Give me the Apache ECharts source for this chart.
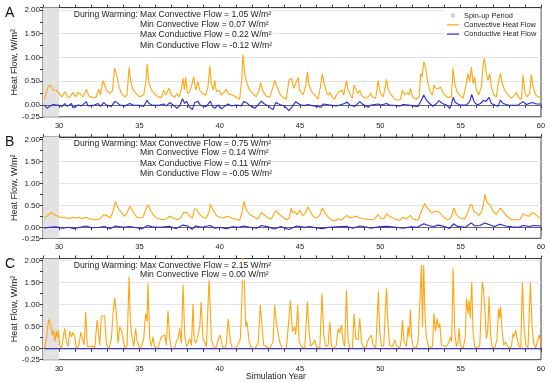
<!DOCTYPE html>
<html><head><meta charset="utf-8">
<script src="https://cdn.jsdelivr.net/npm/echarts@6/dist/echarts.min.js"></script>
<style>html,body{margin:0;padding:0;background:#fff}#c{width:550px;height:382px}</style>
</head><body><div id="c"></div>
<script>
// ---------------- data (year, W/m^2) ----------------
const convA = [[29.08,0.12],[29.32,0.38],[29.46,0.42],[29.63,0.31],[29.83,0.31],[30.00,0.24],[30.15,0.17],[30.25,0.14],[30.39,0.28],[30.52,0.17],[30.66,0.16],[30.87,0.26],[31.04,0.17],[31.18,0.26],[31.33,0.23],[31.49,0.17],[31.70,0.33],[31.85,0.19],[32.12,0.15],[32.32,0.17],[32.47,0.33],[32.57,0.21],[32.74,0.51],[32.84,0.52],[32.95,0.31],[33.15,0.24],[33.32,0.30],[33.46,0.78],[33.61,0.59],[33.73,0.38],[33.88,0.24],[34.09,0.17],[34.23,0.21],[34.36,0.79],[34.46,0.49],[34.61,0.31],[34.81,0.24],[35.02,0.17],[35.27,0.21],[35.39,0.45],[35.48,0.86],[35.60,0.45],[35.75,0.31],[35.95,0.24],[36.16,0.17],[36.37,0.16],[36.51,0.31],[36.64,0.21],[36.85,0.35],[36.99,0.21],[37.20,0.16],[37.34,0.24],[37.47,0.17],[37.61,0.33],[37.72,0.56],[37.80,0.31],[37.88,0.58],[37.99,0.24],[38.13,0.28],[38.30,0.47],[38.38,0.59],[38.51,0.31],[38.65,0.49],[38.76,0.31],[38.92,0.24],[39.13,0.21],[39.27,0.38],[39.38,0.82],[39.48,0.45],[39.59,0.31],[39.69,0.52],[39.79,0.28],[39.96,0.31],[40.10,0.21],[40.25,0.26],[40.41,0.33],[40.52,0.24],[40.62,0.28],[40.79,0.21],[41.04,0.16],[41.24,0.12],[41.37,0.52],[41.45,1.05],[41.56,0.66],[41.70,0.45],[41.87,0.31],[42.07,0.24],[42.28,0.17],[42.45,0.31],[42.55,0.47],[42.70,0.28],[42.90,0.19],[43.11,0.16],[43.32,0.38],[43.42,0.52],[43.57,0.38],[43.73,0.24],[43.93,0.16],[44.14,0.12],[44.31,0.52],[44.46,0.56],[44.61,0.35],[44.73,0.45],[44.88,0.58],[44.98,0.31],[45.19,0.21],[45.34,0.38],[45.46,0.69],[45.56,0.42],[45.71,0.28],[45.92,0.21],[46.12,0.12],[46.27,0.38],[46.39,0.66],[46.50,0.45],[46.64,0.28],[46.75,0.21],[46.85,0.26],[47.00,0.16],[47.16,0.12],[47.26,0.21],[47.41,0.28],[47.51,0.24],[47.62,0.31],[47.72,0.21],[47.89,0.51],[47.99,0.31],[48.14,0.21],[48.26,0.14],[48.36,0.42],[48.47,0.38],[48.61,0.24],[48.72,0.31],[48.82,0.21],[49.03,0.14],[49.24,0.17],[49.38,0.24],[49.55,0.16],[49.71,0.14],[49.86,0.51],[50.00,0.24],[50.17,0.17],[50.27,0.31],[50.38,0.54],[50.50,0.31],[50.69,0.21],[50.90,0.12],[51.10,0.10],[51.25,0.12],[51.37,0.31],[51.52,0.21],[51.66,0.26],[51.79,0.21],[51.87,0.35],[52.00,0.17],[52.24,0.12],[52.41,0.17],[52.51,0.66],[52.60,0.59],[52.70,0.91],[52.82,0.80],[52.93,0.52],[53.07,0.31],[53.24,0.21],[53.34,0.42],[53.45,0.35],[53.59,0.33],[53.74,0.38],[53.86,0.28],[54.01,0.21],[54.21,0.16],[54.42,0.17],[54.53,0.77],[54.63,0.45],[54.77,0.28],[54.94,0.21],[55.15,0.14],[55.31,0.38],[55.46,0.66],[55.56,0.49],[55.67,0.80],[55.77,0.45],[55.87,0.59],[55.98,0.31],[56.12,0.21],[56.29,0.38],[56.39,0.84],[56.48,0.98],[56.60,0.66],[56.70,0.52],[56.81,0.66],[56.91,0.38],[57.06,0.21],[57.22,0.17],[57.37,0.52],[57.47,0.66],[57.60,0.45],[57.74,0.31],[57.95,0.21],[58.16,0.14],[58.36,0.21],[58.47,0.26],[58.63,0.14],[58.78,0.12],[58.88,0.63],[58.99,0.28],[59.13,0.17],[59.30,0.24],[59.40,0.64],[59.51,0.38],[59.67,0.21],[59.82,0.17],[60.00,0.16]];

const condA = [[29.08,0.00],[29.25,-0.07],[29.42,-0.03],[29.63,0.01],[29.83,0.00],[30.00,-0.01],[30.21,-0.03],[30.35,0.03],[30.50,-0.03],[30.77,0.03],[30.87,-0.06],[30.98,-0.03],[31.18,0.00],[31.39,-0.02],[31.70,0.07],[31.80,-0.02],[32.12,-0.01],[32.43,0.03],[32.57,-0.03],[32.78,0.05],[32.95,0.00],[33.26,-0.03],[33.46,0.07],[33.61,0.05],[33.78,0.00],[34.09,-0.02],[34.40,0.03],[34.61,0.00],[35.02,-0.01],[35.27,-0.03],[35.39,-0.07],[35.48,0.10],[35.60,0.03],[35.85,-0.01],[36.27,0.00],[36.51,0.02],[36.68,-0.02],[36.89,0.05],[37.10,0.00],[37.34,-0.07],[37.51,-0.02],[37.68,0.13],[37.82,0.03],[37.93,0.08],[38.09,-0.03],[38.30,-0.10],[38.44,0.05],[38.65,0.08],[38.80,-0.01],[38.96,-0.02],[39.17,-0.03],[39.42,0.08],[39.54,-0.03],[39.69,-0.07],[39.90,0.00],[40.10,-0.08],[40.31,-0.03],[40.52,0.02],[40.73,-0.02],[41.04,0.00],[41.35,-0.02],[41.49,0.07],[41.66,0.05],[41.87,-0.01],[42.18,-0.07],[42.39,0.00],[42.59,0.08],[42.74,0.03],[43.01,-0.02],[43.32,-0.10],[43.49,0.05],[43.73,0.01],[44.05,-0.03],[44.31,-0.12],[44.53,-0.03],[44.73,0.07],[44.88,0.03],[45.09,0.00],[45.29,-0.01],[45.50,0.01],[45.71,-0.01],[46.02,-0.03],[46.33,-0.05],[46.43,0.02],[46.85,0.00],[47.26,-0.02],[47.47,0.00],[47.78,0.03],[47.93,0.06],[48.09,0.00],[48.41,-0.03],[48.72,0.07],[48.88,0.02],[49.24,-0.05],[49.44,0.00],[49.86,0.02],[50.07,0.00],[50.38,0.03],[50.58,0.00],[51.21,-0.02],[51.41,0.01],[51.73,0.00],[52.04,-0.02],[52.35,-0.03],[52.55,0.10],[52.70,0.21],[52.87,0.10],[53.07,0.03],[53.28,-0.03],[53.49,0.03],[53.65,0.09],[53.86,0.03],[54.11,0.00],[54.32,-0.07],[54.42,0.00],[54.53,0.16],[54.67,0.05],[54.94,0.00],[55.36,0.00],[55.56,0.07],[55.69,0.22],[55.83,0.07],[56.02,0.00],[56.23,0.03],[56.43,0.10],[56.56,0.07],[56.77,0.16],[56.91,0.03],[57.12,0.00],[57.33,-0.03],[57.47,0.10],[57.64,0.03],[57.95,0.00],[58.26,-0.01],[58.57,0.00],[58.88,0.07],[59.09,0.01],[59.46,0.05],[59.71,0.02],[60.00,0.02]];

const convB = [[29.08,0.21],[29.32,0.27],[29.48,0.34],[29.63,0.31],[29.83,0.27],[30.04,0.23],[30.25,0.23],[30.46,0.21],[30.66,0.20],[30.87,0.23],[31.04,0.21],[31.24,0.23],[31.39,0.20],[31.70,0.23],[31.91,0.19],[32.22,0.17],[32.53,0.19],[32.78,0.29],[32.95,0.27],[33.20,0.21],[33.36,0.36],[33.51,0.59],[33.67,0.44],[33.88,0.33],[34.09,0.25],[34.23,0.33],[34.40,0.48],[34.54,0.40],[34.71,0.29],[34.92,0.21],[35.23,0.23],[35.39,0.40],[35.54,0.51],[35.68,0.40],[35.85,0.29],[36.06,0.21],[36.37,0.17],[36.68,0.19],[36.89,0.25],[37.10,0.21],[37.41,0.17],[37.61,0.23],[37.76,0.34],[37.86,0.30],[37.99,0.33],[38.13,0.25],[38.30,0.21],[38.44,0.42],[38.59,0.39],[38.76,0.29],[38.96,0.23],[39.17,0.21],[39.32,0.33],[39.42,0.52],[39.59,0.39],[39.79,0.27],[40.00,0.23],[40.25,0.21],[40.46,0.25],[40.62,0.23],[40.93,0.19],[41.24,0.16],[41.41,0.36],[41.51,0.59],[41.66,0.40],[41.87,0.29],[42.18,0.23],[42.39,0.19],[42.59,0.34],[42.74,0.29],[43.01,0.21],[43.22,0.19],[43.32,0.27],[43.49,0.38],[43.63,0.33],[43.84,0.25],[44.15,0.17],[44.33,0.21],[44.45,0.44],[44.53,0.33],[44.67,0.36],[44.82,0.29],[44.98,0.39],[45.15,0.27],[45.29,0.30],[45.50,0.46],[45.65,0.36],[45.81,0.25],[46.02,0.21],[46.23,0.27],[46.39,0.44],[46.54,0.33],[46.75,0.23],[46.95,0.17],[47.16,0.15],[47.37,0.19],[47.58,0.17],[47.78,0.23],[47.93,0.27],[48.09,0.21],[48.30,0.23],[48.51,0.25],[48.72,0.21],[49.03,0.19],[49.34,0.17],[49.65,0.19],[49.86,0.29],[50.00,0.21],[50.21,0.19],[50.38,0.31],[50.58,0.25],[50.90,0.19],[51.21,0.16],[51.41,0.23],[51.62,0.19],[51.87,0.27],[52.04,0.19],[52.35,0.16],[52.55,0.36],[52.76,0.54],[52.91,0.44],[53.18,0.33],[53.38,0.36],[53.59,0.36],[53.80,0.29],[54.01,0.21],[54.21,0.17],[54.42,0.23],[54.57,0.44],[54.73,0.29],[54.94,0.21],[55.25,0.19],[55.46,0.36],[55.60,0.52],[55.73,0.49],[55.81,0.36],[55.98,0.33],[56.14,0.27],[56.35,0.40],[56.52,0.75],[56.64,0.55],[56.81,0.52],[57.02,0.36],[57.22,0.29],[57.47,0.44],[57.64,0.36],[57.89,0.25],[58.16,0.17],[58.68,0.17],[58.88,0.31],[59.05,0.27],[59.26,0.25],[59.46,0.34],[59.67,0.29],[59.92,0.21],[60.00,0.19]];

const condB = [[29.08,-0.02],[29.40,0.00],[29.80,0.01],[30.20,-0.02],[30.60,0.00],[30.90,-0.03],[31.30,0.00],[31.70,0.03],[32.00,-0.01],[32.50,0.00],[32.80,0.02],[33.20,-0.03],[33.50,0.03],[34.00,0.00],[34.40,0.02],[34.80,-0.01],[35.20,-0.03],[35.50,0.04],[35.80,0.01],[36.30,0.00],[36.90,0.02],[37.30,-0.03],[37.70,0.05],[38.00,0.03],[38.30,-0.05],[38.50,0.03],[38.90,0.00],[39.40,0.04],[39.70,-0.02],[40.00,0.00],[40.40,-0.03],[40.80,0.01],[41.20,0.00],[41.50,0.03],[41.90,0.00],[42.30,-0.02],[42.60,0.04],[43.00,0.01],[43.40,-0.04],[43.80,0.02],[44.30,-0.05],[44.80,0.03],[45.30,0.00],[45.60,0.02],[46.00,-0.01],[46.35,-0.03],[46.80,0.00],[47.30,0.01],[47.90,0.02],[48.30,-0.02],[48.70,0.03],[49.20,0.00],[49.40,-0.02],[49.90,0.01],[50.40,0.02],[51.00,0.00],[51.40,-0.02],[51.90,0.01],[52.30,0.00],[52.70,0.08],[53.00,0.04],[53.30,0.02],[53.60,0.05],[54.00,0.02],[54.30,-0.03],[54.55,0.08],[54.80,0.02],[55.30,0.00],[55.65,0.10],[55.90,0.03],[56.20,0.04],[56.50,0.10],[56.80,0.06],[57.10,0.02],[57.45,0.07],[57.80,0.03],[58.20,0.01],[58.60,0.00],[58.90,0.04],[59.30,0.02],[59.50,0.04],[60.00,0.03]];

const convC = [[29.08,0.00],[29.21,0.23],[29.36,0.67],[29.48,0.54],[29.59,0.31],[29.67,0.42],[29.73,0.16],[29.83,0.39],[29.90,0.25],[29.96,0.42],[30.04,0.08],[30.15,0.00],[30.25,0.00],[30.35,0.46],[30.46,0.16],[30.56,0.05],[30.66,0.40],[30.77,0.27],[30.87,0.37],[30.98,0.27],[31.08,0.00],[31.24,0.08],[31.35,0.37],[31.45,0.23],[31.56,0.08],[31.66,0.84],[31.76,0.05],[31.91,0.05],[32.01,0.08],[32.12,0.06],[32.22,0.00],[32.28,0.27],[32.37,0.65],[32.45,0.39],[32.53,0.08],[32.63,0.73],[32.74,0.77],[32.84,0.75],[32.95,0.08],[33.11,0.00],[33.26,0.23],[33.36,0.80],[33.46,1.16],[33.57,0.77],[33.67,0.12],[33.78,0.50],[33.88,0.42],[33.98,0.23],[34.09,0.02],[34.23,0.05],[34.36,1.64],[34.44,0.61],[34.52,0.31],[34.65,0.05],[34.77,0.46],[34.85,0.20],[35.02,0.00],[35.12,0.05],[35.27,0.23],[35.39,0.80],[35.48,0.61],[35.54,1.48],[35.64,0.23],[35.75,0.05],[35.85,0.27],[35.95,0.05],[36.16,0.00],[36.27,0.16],[36.37,0.27],[36.47,0.23],[36.58,0.31],[36.68,0.08],[36.78,0.86],[36.89,0.23],[36.99,0.00],[37.20,0.00],[37.30,0.16],[37.41,0.23],[37.51,0.46],[37.61,0.12],[37.72,1.46],[37.82,0.31],[37.93,0.05],[38.03,0.12],[38.13,0.23],[38.24,0.08],[38.34,1.02],[38.40,0.23],[38.51,0.12],[38.65,0.31],[38.76,0.50],[38.84,1.06],[38.96,0.23],[39.17,0.05],[39.34,1.60],[39.48,0.23],[39.59,0.05],[39.75,0.00],[39.90,0.20],[40.04,0.31],[40.17,0.05],[40.31,0.00],[40.41,0.10],[40.53,0.68],[40.66,0.20],[40.79,0.00],[40.93,0.00],[41.14,0.08],[41.29,0.23],[41.39,1.22],[41.45,2.15],[41.54,1.37],[41.62,0.50],[41.70,0.61],[41.83,0.16],[41.97,0.02],[42.18,0.00],[42.39,0.12],[42.53,1.00],[42.66,0.39],[42.74,0.08],[42.90,0.05],[43.11,0.00],[43.32,0.16],[43.42,1.00],[43.53,0.58],[43.63,0.61],[43.73,0.16],[43.90,0.00],[44.15,0.00],[44.32,0.73],[44.40,1.10],[44.53,0.39],[44.67,0.50],[44.73,0.31],[44.86,0.99],[44.94,0.16],[45.09,0.05],[45.29,0.00],[45.40,0.69],[45.46,1.07],[45.56,0.39],[45.67,0.05],[45.81,0.12],[45.92,0.20],[46.02,0.05],[46.23,0.00],[46.37,1.26],[46.48,0.31],[46.60,0.05],[46.75,0.08],[46.85,0.61],[46.95,0.08],[47.10,0.00],[47.26,0.08],[47.37,0.46],[47.47,0.35],[47.58,0.54],[47.68,0.16],[47.78,0.05],[47.89,1.33],[47.99,0.23],[48.09,0.02],[48.26,0.00],[48.36,0.80],[48.47,0.23],[48.61,0.20],[48.72,0.69],[48.82,0.16],[48.97,0.00],[49.13,0.05],[49.24,0.20],[49.34,0.23],[49.44,0.31],[49.55,0.08],[49.71,0.00],[49.80,0.69],[49.88,1.30],[49.96,0.39],[50.07,0.05],[50.21,0.08],[50.38,1.37],[50.48,0.54],[50.58,0.08],[50.75,0.05],[50.90,0.20],[51.00,0.08],[51.21,0.00],[51.31,0.23],[51.37,0.65],[51.48,0.16],[51.62,0.05],[51.73,0.50],[51.79,0.27],[51.87,0.88],[51.95,0.23],[52.04,0.05],[52.20,0.00],[52.35,0.16],[52.45,0.20],[52.56,1.90],[52.62,0.50],[52.70,1.90],[52.78,0.77],[52.87,0.23],[53.03,0.02],[53.24,0.05],[53.34,0.80],[53.43,0.39],[53.53,0.69],[53.61,0.46],[53.70,0.58],[53.80,0.08],[53.90,0.05],[54.11,0.05],[54.28,0.16],[54.36,0.27],[54.44,0.16],[54.53,1.83],[54.63,0.39],[54.73,0.05],[54.84,0.16],[54.90,0.46],[54.98,0.08],[55.15,0.00],[55.29,0.27],[55.36,1.14],[55.46,0.80],[55.52,1.10],[55.60,0.69],[55.69,1.52],[55.77,0.39],[55.87,0.05],[56.02,0.00],[56.19,0.08],[56.35,1.52],[56.43,1.30],[56.52,0.77],[56.60,0.23],[56.68,0.39],[56.77,1.18],[56.85,0.39],[56.95,0.05],[57.12,0.00],[57.26,0.23],[57.37,0.92],[57.43,0.69],[57.49,0.95],[57.58,0.39],[57.68,0.08],[57.80,0.16],[57.89,0.08],[58.05,0.00],[58.16,0.05],[58.26,0.35],[58.32,0.27],[58.43,0.42],[58.51,0.23],[58.63,0.05],[58.74,0.00],[58.84,1.50],[58.95,0.46],[59.05,0.08],[59.19,0.02],[59.34,1.50],[59.44,0.54],[59.55,0.12],[59.67,0.02],[59.82,0.23],[59.90,0.31],[60.00,0.08]];

const condC = [[29.08,0.00],[35.00,0.00],[40.00,0.00],[45.00,0.00],[50.00,0.00],[55.00,0.00],[60.00,0.00]];

const spinUp = [29, 30];
const panelLetters = ['A', 'B', 'C'];
const notesLead = 'During Warming:';
const notes = [
  ['Max Convective Flow = 1.05 W/m²', 'Min Convective Flow = 0.07 W/m²', 'Max Conductive Flow = 0.22 W/m²', 'Min Conductive Flow = -0.12 W/m²'],
  ['Max Convective Flow = 0.75 W/m²', 'Min Convective Flow = 0.14 W/m²', 'Max Conductive Flow = 0.11 W/m²', 'Min Conductive Flow = -0.05 W/m²'],
  ['Max Convective Flow = 2.15 W/m²', 'Min Convective Flow = 0.00 W/m²']
];
const gridLineValues = [0.5, 1, 1.5, 2];
const conv = [convA, convB, convC];
const cond = [condA, condB, condC];

// ---------------- layout / style ----------------
const FONT = '"Liberation Sans", Arial, sans-serif';
const ORANGE = '#FFA60F';
const BLUE = '#2626D9';
const AX = '#3a3a3a';
const grids = [
  {left: 43, right: 9, top: 7.6, height: 109.2},
  {left: 43, right: 9, top: 137.1, height: 101.2},
  {left: 43, right: 9, top: 258.5, height: 101.2}
];
const noteY = [[15, 24.6, 35, 45.4], [143.5, 153, 163.2, 173.4], [265.5, 275]];

const xAxes = [], yAxes = [], series = [], graphics = [];
grids.forEach((g, i) => {
  xAxes.push({
    type: 'value', gridIndex: i, position: 'bottom', min: 29, max: 60, interval: 1,
    axisLine: {show: true, lineStyle: {color: AX, width: 1}},
    axisTick: {show: true, length: 3, lineStyle: {color: AX}},
    axisLabel: {fontSize: 7.5, fontFamily: FONT, color: '#222', margin: 5,
      formatter: v => (Math.round(v) % 5 === 0 ? String(Math.round(v)) : '')},
    splitLine: {show: false}
  });
  xAxes.push({
    type: 'value', gridIndex: i, position: 'top', min: 29, max: 60, interval: 1,
    axisLine: {show: true, lineStyle: {color: AX, width: 1}},
    axisTick: {show: true, length: 3, lineStyle: {color: AX}},
    axisLabel: {show: false}, splitLine: {show: false}
  });
  yAxes.push({
    type: 'value', gridIndex: i, min: -0.25, max: 2.05, interval: 0.25,
    axisLine: {show: true, lineStyle: {color: AX, width: 1}},
    axisTick: {show: true, length: 3, lineStyle: {color: AX}},
    axisLabel: {fontSize: 8, fontFamily: FONT, color: '#222', margin: 3,
      formatter: v => {
        if (Math.abs(v + 0.25) < 1e-6) return '-0.25';
        if (v > -1e-6 && v < 2.0001 && Math.abs(v * 2 - Math.round(v * 2)) < 1e-6) return v.toFixed(2);
        return '';
      }},
    splitLine: {show: false}
  });
  // grid lines
  series.push({
    type: 'line', name: 'grid' + i, xAxisIndex: 2 * i, yAxisIndex: i, data: [], silent: true,
    markLine: {silent: true, z: 0, symbol: ['none', 'none'], animation: false, label: {show: false},
      lineStyle: {color: '#e3e3e3', width: 1, type: 'solid'},
      data: gridLineValues.map(v => ({yAxis: v}))}
  });
  // spin-up shading
  series.push({
    type: 'line', name: 'Spin-up Period', xAxisIndex: 2 * i, yAxisIndex: i, data: [], silent: true,
    symbol: 'none', itemStyle: {color: '#d4d4d4'}, lineStyle: {color: '#d4d4d4'},
    markArea: {silent: true, z: 1, animation: false, itemStyle: {color: '#e2e2e2'},
      data: [[{xAxis: spinUp[0]}, {xAxis: spinUp[1]}]]}
  });
  // zero line
  series.push({
    type: 'line', name: 'zero' + i, xAxisIndex: 2 * i, yAxisIndex: i, data: [], silent: true,
    markLine: {silent: true, z: 2, symbol: ['none', 'none'], animation: false, label: {show: false},
      lineStyle: {color: '#6a6a6a', width: 1, type: 'solid'}, data: [{yAxis: 0}]}
  });
  series.push({
    type: 'line', name: 'Convective Heat Flow', xAxisIndex: 2 * i, yAxisIndex: i, data: conv[i],
    symbol: 'none', z: 3, clip: true, lineStyle: {color: ORANGE, width: 1.1}, itemStyle: {color: ORANGE}
  });
  series.push({
    type: 'line', name: 'Conductive Heat Flow', xAxisIndex: 2 * i, yAxisIndex: i, data: cond[i],
    symbol: 'none', z: 4, clip: true, lineStyle: {color: BLUE, width: 1.1}, itemStyle: {color: BLUE}
  });

  // panel letter
  graphics.push({type: 'text', x: 5, y: g.top + 5.5,
    style: {text: panelLetters[i], fontSize: 14, fontFamily: FONT, fill: '#111', verticalAlign: 'middle', align: 'left'}});
  // y axis name
  graphics.push({type: 'text', x: 15, y: g.top + g.height / 2, rotation: Math.PI / 2,
    style: {text: 'Heat Flow, W/m²', fontSize: 9, fontFamily: FONT, fill: '#222', align: 'center', verticalAlign: 'middle'}});
  // notes (white box behind, like the reference)
  graphics.push({type: 'text', x: 138, y: noteY[i][0], z: 10,
    style: {text: notesLead, fontSize: 8.6, fontFamily: FONT, fill: '#222', align: 'right', verticalAlign: 'middle',
      backgroundColor: '#fff', padding: [1, 0, 1, 1]}});
  notes[i].forEach((t, k) => {
    graphics.push({type: 'text', x: 140, y: noteY[i][k], z: 10,
      style: {text: t, fontSize: 8.6, fontFamily: FONT, fill: '#222', align: 'left', verticalAlign: 'middle',
        backgroundColor: '#fff', padding: [1, 1, 1, 0]}});
  });
});
graphics.push({type: 'text', x: 276, y: 376.5,
  style: {text: 'Simulation Year', fontSize: 8.6, fontFamily: FONT, fill: '#222', align: 'center', verticalAlign: 'middle'}});

const chart = echarts.init(document.getElementById('c'), null, {renderer: 'canvas'});
chart.setOption({
  animation: false,
  backgroundColor: '#fff',
  grid: grids.map(g => Object.assign({show: true, borderColor: AX, borderWidth: 1, backgroundColor: 'transparent'}, g)),
  xAxis: xAxes,
  yAxis: yAxes,
  legend: {
    show: true, orient: 'vertical', left: 444, top: 9, backgroundColor: '#fff',
    padding: [2, 4, 2, 3], itemWidth: 12, itemHeight: 4, itemGap: 0.3, symbolKeepAspect: true,
    selectedMode: false,
    textStyle: {fontSize: 7.4, fontFamily: FONT, color: '#222', lineHeight: 9},
    data: [
      {name: 'Spin-up Period', icon: 'path://M0 0H10V10H0Z', itemStyle: {color: '#d0d0d0'}},
      {name: 'Convective Heat Flow', icon: 'path://M0 0H24V2.4H0Z', itemStyle: {color: ORANGE}},
      {name: 'Conductive Heat Flow', icon: 'path://M0 0H24V2.4H0Z', itemStyle: {color: BLUE}}
    ]
  },
  graphic: graphics,
  series: series
});
</script>
</body></html>
